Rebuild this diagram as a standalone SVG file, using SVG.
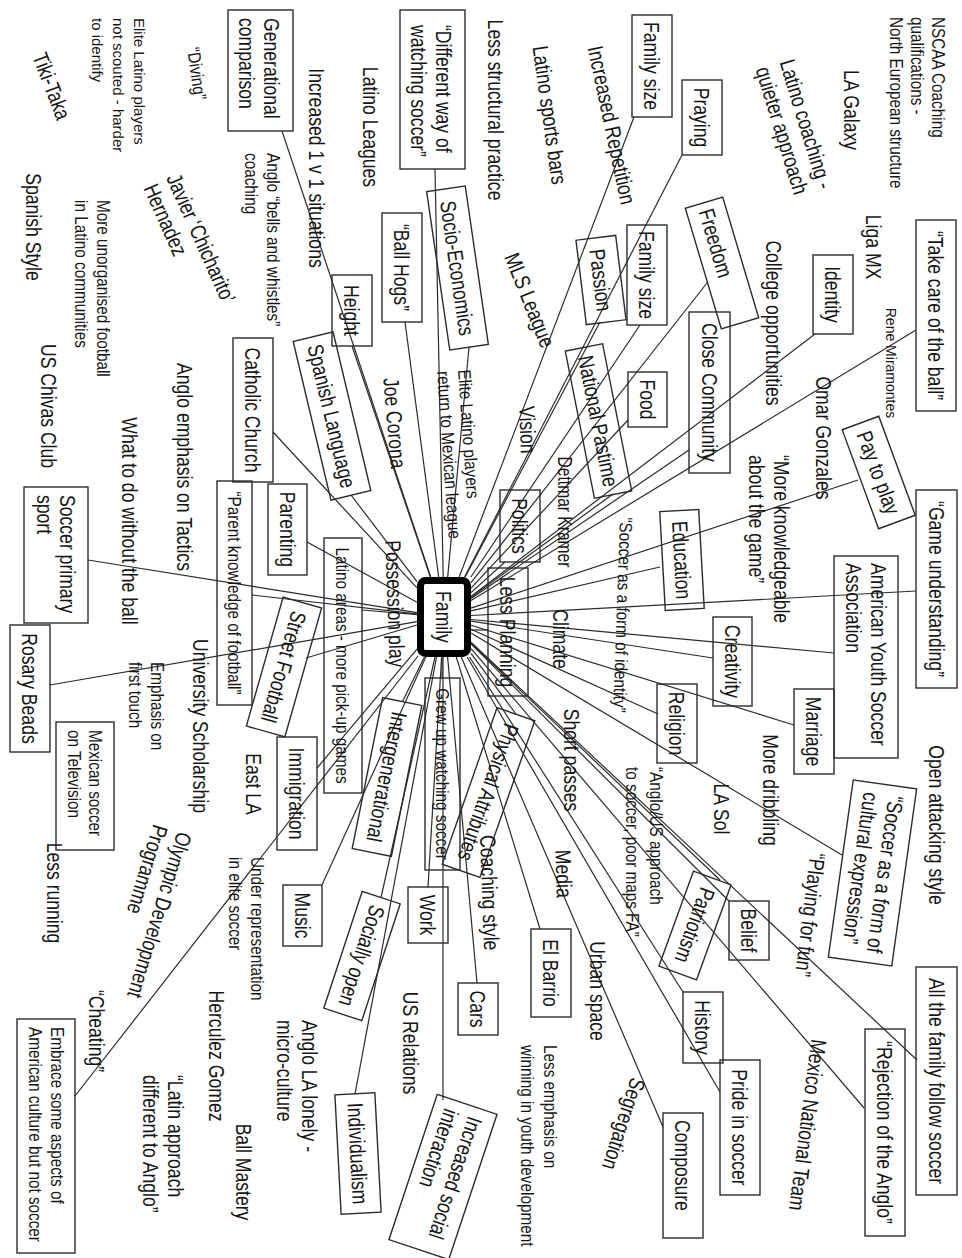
<svg xmlns="http://www.w3.org/2000/svg" width="962" height="1258" viewBox="0 0 962 1258">
<style>
text{font-family:"Liberation Sans",Arial,Helvetica,sans-serif;fill:#161616}
.L{font-size:22px}
.M{font-size:18px}
.S{font-size:15px}
.mid{text-anchor:middle}
.n rect{fill:none;stroke:#2b2b2b;stroke-width:1.4}
.n rect.hub{fill:#fff;stroke:#000;stroke-width:7}
#links line{stroke:#2b2b2b;stroke-width:1.2}
</style>
<rect width="962" height="1258" fill="#fff"/>

<!-- connectors: each box to the Family hub -->
<g id="links">
<line x1="282" y1="131" x2="430.7" y2="577"/>
<line x1="352" y1="346" x2="430.4" y2="577"/>
<line x1="405" y1="322" x2="438.7" y2="577"/>
<line x1="435" y1="169" x2="443.2" y2="577"/>
<line x1="469" y1="347" x2="447.7" y2="577"/>
<line x1="351" y1="495" x2="417" y2="581.6"/>
<line x1="273" y1="432" x2="417" y2="587.8"/>
<line x1="307" y1="542" x2="417" y2="602.2"/>
<line x1="88" y1="560" x2="417" y2="612.7"/>
<line x1="252" y1="595" x2="417" y2="613.9"/>
<line x1="50" y1="685" x2="417" y2="621.7"/>
<line x1="306" y1="658" x2="417" y2="625"/>
<line x1="362" y1="610" x2="417" y2="614.7"/>
<line x1="317" y1="768" x2="417" y2="649.1"/>
<line x1="322" y1="885" x2="425.8" y2="657"/>
<line x1="75" y1="1096" x2="418" y2="656"/>
<line x1="402.5" y1="701.5" x2="424.4" y2="657"/>
<line x1="381" y1="897.5" x2="435" y2="657"/>
<line x1="355" y1="1094" x2="436.5" y2="657"/>
<line x1="428" y1="887" x2="441.6" y2="657"/>
<line x1="443" y1="1100" x2="443" y2="657"/>
<line x1="442" y1="678" x2="442" y2="657"/>
<line x1="516" y1="714" x2="471" y2="653.4"/>
<line x1="477" y1="983" x2="447.6" y2="657"/>
<line x1="540" y1="929" x2="456.3" y2="657"/>
<line x1="720" y1="880" x2="471" y2="643.3"/>
<line x1="729" y1="901" x2="471" y2="643.9"/>
<line x1="683" y1="992" x2="469.5" y2="657"/>
<line x1="720" y1="1092" x2="467.2" y2="657"/>
<line x1="663" y1="1127" x2="461.2" y2="657"/>
<line x1="917" y1="1060" x2="471" y2="642.3"/>
<line x1="864" y1="1108" x2="471" y2="648.6"/>
<line x1="842" y1="855" x2="471" y2="633.1"/>
<line x1="658" y1="714" x2="471" y2="629.2"/>
<line x1="794" y1="725" x2="471" y2="625.3"/>
<line x1="713" y1="658" x2="471" y2="621.1"/>
<line x1="834" y1="653" x2="471" y2="619.5"/>
<line x1="916" y1="591" x2="471" y2="615.5"/>
<line x1="660" y1="567" x2="471" y2="610.8"/>
<line x1="858" y1="480" x2="471" y2="608.1"/>
<line x1="916" y1="330" x2="471" y2="600.6"/>
<line x1="815" y1="334" x2="471" y2="596.4"/>
<line x1="689" y1="450" x2="471" y2="598.6"/>
<line x1="628" y1="420" x2="471" y2="588.1"/>
<line x1="707" y1="283" x2="471" y2="582.7"/>
<line x1="640" y1="325" x2="470.9" y2="577"/>
<line x1="600" y1="322" x2="465.2" y2="577"/>
<line x1="682" y1="155" x2="464.6" y2="577"/>
<line x1="634" y1="117" x2="459.2" y2="577"/>
<line x1="613" y1="494" x2="471" y2="597.3"/>
<line x1="505" y1="562" x2="471" y2="592.6"/>
<line x1="488" y1="630" x2="471" y2="630"/>
</g>

<!-- boxed nodes -->
<g class="n">
<g id="n-family" transform="translate(444,617) rotate(90)"><rect class="hub" x="-36.5" y="-23.5" width="73" height="47" rx="5"/><text class="L mid" transform="translate(0,7.9) scale(.8,1)">Family</text></g>
<g id="n-generational" transform="translate(260.5,70.5) rotate(90)"><rect x="-60.5" y="-32.5" width="121" height="65"/><text class="L" transform="translate(-52.5,-3.5) scale(.8,1)"><tspan x="0">Generational</tspan><tspan x="0" dy="25">comparison</tspan></text></g>
<g id="n-different-way" transform="translate(432.5,89.5) rotate(90)"><rect x="-79.5" y="-32.5" width="159" height="65"/><text class="L" transform="translate(-64.5,-3.5) scale(.8,1)"><tspan x="0">“Different way of</tspan><tspan x="0" dy="25">watching soccer”</tspan></text></g>
<g id="n-ball-hogs" transform="translate(402,267.5) rotate(90)"><rect x="-54.5" y="-20" width="109" height="40"/><text class="L mid" transform="translate(0,7.9) scale(.8,1)">“Ball Hogs”</text></g>
<g id="n-height" transform="translate(352,310.5) rotate(90)"><rect x="-35.5" y="-20" width="71" height="40"/><text class="L mid" transform="translate(0,7.9) scale(.8,1)">Height</text></g>
<g id="n-socio" transform="translate(457.5,268) rotate(81.7)"><rect x="-80" y="-19.5" width="160" height="39"/><text class="L mid" transform="translate(0,7.9) scale(.8,1)">Socio-Economics</text></g>
<g id="n-spanish-language" transform="translate(332,416) rotate(76.6)"><rect x="-81.5" y="-20.5" width="163" height="41"/><text class="L mid" transform="translate(0,7.9) scale(.8,1)">Spanish Language</text></g>
<g id="n-catholic" transform="translate(253,410) rotate(90)"><rect x="-72" y="-20" width="144" height="40"/><text class="L mid" transform="translate(0,7.9) scale(.8,1)">Catholic Church</text></g>
<g id="n-parent-knowledge" transform="translate(234.5,593) rotate(90)"><rect x="-112" y="-17.5" width="224" height="35"/><text class="M mid" transform="translate(0,7) scale(.85,1)">“Parent knowledge of football”</text></g>
<g id="n-parenting" transform="translate(287.5,529.5) rotate(90)"><rect x="-45.5" y="-19.5" width="91" height="39"/><text class="L mid" transform="translate(0,7.9) scale(.8,1)">Parenting</text></g>
<g id="n-soccer-primary" transform="translate(56,555) rotate(90)"><rect x="-68" y="-32" width="136" height="64"/><text class="L" transform="translate(-60,-4) scale(.8,1)"><tspan x="0">Soccer primary</tspan><tspan x="0" dy="23">sport</tspan></text></g>
<g id="n-rosary" transform="translate(30,688.5) rotate(90)"><rect x="-63.5" y="-20" width="127" height="40"/><text class="L mid" transform="translate(0,7.9) scale(.8,1)">Rosary Beads</text></g>
<g id="n-mexican-tv" transform="translate(85,786) rotate(90)"><rect x="-64" y="-29" width="128" height="58"/><text class="M" transform="translate(-56,-4) scale(.85,1)"><tspan x="0">Mexican soccer</tspan><tspan x="0" dy="21">on Television</tspan></text></g>
<g id="n-street-football" transform="translate(284,667) rotate(105.9)"><rect x="-67" y="-20" width="134" height="40"/><text class="L mid" transform="translate(0,7.9) scale(.8,1)">Street Football</text></g>
<g id="n-latino-areas" transform="translate(343,665.5) rotate(90)"><rect x="-127.5" y="-19" width="255" height="38"/><text class="M mid" transform="translate(0,7) scale(.85,1)">Latino areas - more pick-up games</text></g>
<g id="n-immigration" transform="translate(297,793.5) rotate(90)"><rect x="-56.5" y="-20" width="113" height="40"/><text class="L mid" transform="translate(0,7.9) scale(.8,1)">Immigration</text></g>
<g id="n-music" transform="translate(302.5,915.5) rotate(90)"><rect x="-30.5" y="-19.5" width="61" height="39"/><text class="L mid" transform="translate(0,7.9) scale(.8,1)">Music</text></g>
<g id="n-embrace" transform="translate(46,1136) rotate(90)"><rect x="-117" y="-29" width="234" height="58"/><text class="M" transform="translate(-109,-5) scale(.85,1)"><tspan x="0">Embrace some aspects of</tspan><tspan x="0" dy="22">American culture but not soccer</tspan></text></g>
<g id="n-intergenerational" transform="translate(387,777) rotate(101.4)"><rect x="-77" y="-20" width="154" height="40"/><text class="L mid" transform="translate(0,7.9) scale(.8,1)">Intergenerational</text></g>
<g id="n-grew-up" transform="translate(442.5,774) rotate(90)"><rect x="-96" y="-17.5" width="192" height="35"/><text class="M mid" transform="translate(0,6.4) scale(.85,1)">Grew up watching soccer</text></g>
<g id="n-physical" transform="translate(488.5,792.5) rotate(109.3)"><rect x="-83" y="-20" width="166" height="40"/><text class="L mid" transform="translate(0,7.9) scale(.8,1)">Physical Attributes</text></g>
<g id="n-less-planning" transform="translate(508,632) rotate(90)"><rect x="-64" y="-20" width="128" height="40"/><text class="L mid" transform="translate(0,7.9) scale(.8,1)">Less Planning</text></g>
<g id="n-politics" transform="translate(520,526) rotate(90)"><rect x="-36" y="-20" width="72" height="40"/><text class="L mid" transform="translate(0,7.9) scale(.8,1)">Politics</text></g>
<g id="n-national-pastime" transform="translate(598.5,421) rotate(78.8)"><rect x="-75" y="-19" width="150" height="38"/><text class="L mid" transform="translate(0,7.9) scale(.8,1)">National Pastime</text></g>
<g id="n-family-size-1" transform="translate(652,66) rotate(90)"><rect x="-51" y="-20" width="102" height="40"/><text class="L mid" transform="translate(0,7.9) scale(.8,1)">Family size</text></g>
<g id="n-praying" transform="translate(702,117.5) rotate(90)"><rect x="-37.5" y="-20" width="75" height="40"/><text class="L mid" transform="translate(0,7.9) scale(.8,1)">Praying</text></g>
<g id="n-passion" transform="translate(601,280) rotate(83)"><rect x="-42.5" y="-20" width="85" height="40"/><text class="L mid" transform="translate(0,7.9) scale(.8,1)">Passion</text></g>
<g id="n-family-size-2" transform="translate(647,275) rotate(90)"><rect x="-50" y="-20" width="100" height="40"/><text class="L mid" transform="translate(0,7.9) scale(.8,1)">Family size</text></g>
<g id="n-freedom" transform="translate(722,263) rotate(73.4)"><rect x="-63" y="-19.5" width="126" height="39"/><text class="L" transform="translate(-56,7.9) scale(.8,1)">Freedom</text></g>
<g id="n-close-community" transform="translate(709.5,392.5) rotate(90)"><rect x="-80.5" y="-20.5" width="161" height="41"/><text class="L mid" transform="translate(0,7.9) scale(.8,1)">Close Community</text></g>
<g id="n-food" transform="translate(647.5,399.5) rotate(90)"><rect x="-27.5" y="-19.5" width="55" height="39"/><text class="L mid" transform="translate(0,7.9) scale(.8,1)">Food</text></g>
<g id="n-identity" transform="translate(833,294.5) rotate(90)"><rect x="-39.5" y="-20" width="79" height="40"/><text class="L mid" transform="translate(0,7.9) scale(.8,1)">Identity</text></g>
<g id="n-take-care" transform="translate(936,315.5) rotate(90)"><rect x="-95.5" y="-20" width="191" height="40"/><text class="L mid" transform="translate(0,7.9) scale(.8,1)">“Take care of the ball”</text></g>
<g id="n-pay-to-play" transform="translate(878.7,472.5) rotate(69.8)"><rect x="-52.75" y="-19.5" width="105.5" height="39"/><text class="L mid" transform="translate(0,7.9) scale(.8,1)">Pay to play</text></g>
<g id="n-education" transform="translate(682,560) rotate(86.8)"><rect x="-49.5" y="-19.5" width="99" height="39"/><text class="L mid" transform="translate(0,7.9) scale(.8,1)">Education</text></g>
<g id="n-creativity" transform="translate(732.5,661.5) rotate(90)"><rect x="-44.5" y="-19.5" width="89" height="39"/><text class="L mid" transform="translate(0,7.9) scale(.8,1)">Creativity</text></g>
<g id="n-aysa" transform="translate(866,657) rotate(90)"><rect x="-101" y="-32" width="202" height="64"/><text class="L" transform="translate(-94,-5) scale(.8,1)"><tspan x="0">American Youth Soccer</tspan><tspan x="0" dy="25">Association</tspan></text></g>
<g id="n-game-understanding" transform="translate(936.5,589) rotate(90)"><rect x="-99" y="-20.5" width="198" height="41"/><text class="L mid" transform="translate(0,7.9) scale(.8,1)">“Game understanding”</text></g>
<g id="n-marriage" transform="translate(814,731.5) rotate(90)"><rect x="-42.5" y="-20" width="85" height="40"/><text class="L mid" transform="translate(0,7.9) scale(.8,1)">Marriage</text></g>
<g id="n-religion" transform="translate(677,723.5) rotate(90)"><rect x="-39.5" y="-20" width="79" height="40"/><text class="L mid" transform="translate(0,7.9) scale(.8,1)">Religion</text></g>
<g id="n-cultural-expression" transform="translate(872.5,873) rotate(98)"><rect x="-89.5" y="-32" width="179" height="64"/><text class="L" transform="translate(-79.5,-5) scale(.8,1)"><tspan x="0">“Soccer as a form of</tspan><tspan x="0" dy="25">cultural expression”</tspan></text></g>
<g id="n-belief" transform="translate(749,930.5) rotate(90)"><rect x="-29.5" y="-20" width="59" height="40"/><text class="L mid" transform="translate(0,7.9) scale(.8,1)">Belief</text></g>
<g id="n-patriotism" transform="translate(695,925.5) rotate(110)"><rect x="-50.5" y="-20" width="101" height="40"/><text class="L mid" transform="translate(0,7.9) scale(.8,1)">Patriotism</text></g>
<g id="n-history" transform="translate(703,1027.5) rotate(90)"><rect x="-35.5" y="-20" width="71" height="40"/><text class="L mid" transform="translate(0,7.9) scale(.8,1)">History</text></g>
<g id="n-pride" transform="translate(740,1127.5) rotate(90)"><rect x="-67.5" y="-20" width="135" height="40"/><text class="L mid" transform="translate(0,7.9) scale(.8,1)">Pride in soccer</text></g>
<g id="n-composure" transform="translate(683,1175.5) rotate(90)"><rect x="-62.5" y="-20" width="125" height="40"/><text class="L" transform="translate(-55.5,7.9) scale(.8,1)">Composure</text></g>
<g id="n-all-family" transform="translate(936.5,1081) rotate(90)"><rect x="-114" y="-20.5" width="228" height="41"/><text class="L mid" transform="translate(0,7.9) scale(.8,1)">All the family follow soccer</text></g>
<g id="n-rejection" transform="translate(885,1132.5) rotate(90)"><rect x="-103.5" y="-20" width="207" height="40"/><text class="L mid" transform="translate(0,7.9) scale(.8,1)">“Rejection of the Anglo”</text></g>
<g id="n-el-barrio" transform="translate(551,973) rotate(90)"><rect x="-44" y="-20" width="88" height="40"/><text class="L mid" transform="translate(0,7.9) scale(.8,1)">El Barrio</text></g>
<g id="n-cars" transform="translate(478,1009) rotate(90)"><rect x="-26" y="-20" width="52" height="40"/><text class="L mid" transform="translate(0,7.9) scale(.8,1)">Cars</text></g>
<g id="n-work" transform="translate(428,915) rotate(90)"><rect x="-28" y="-20" width="56" height="40"/><text class="L mid" transform="translate(0,7.9) scale(.8,1)">Work</text></g>
<g id="n-socially-open" transform="translate(362,956) rotate(108.2)"><rect x="-61.5" y="-20" width="123" height="40"/><text class="L mid" transform="translate(0,7.9) scale(.8,1)">Socially open</text></g>
<g id="n-individualism" transform="translate(358,1153.5) rotate(87)"><rect x="-59.75" y="-20" width="119.5" height="40"/><text class="L mid" transform="translate(0,7.9) scale(.8,1)">Individualism</text></g>
<g id="n-social-interaction" transform="translate(443,1177) rotate(108.4)"><rect x="-76.5" y="-31.5" width="153" height="63"/><text class="L" transform="translate(-66.5,-4.5) scale(.8,1)"><tspan x="0">Increased social</tspan><tspan x="0" dy="25">interaction</tspan></text></g>
</g>

<!-- free-standing labels -->
<g id="labels">
<g id="t-tiki-taka" transform="translate(44.6,88.8) rotate(69)"><text class="L mid" transform="scale(.8,1)">Tiki-Taka</text></g>
<g id="t-diving" transform="translate(190.6,74.4) rotate(82)"><text class="M mid" transform="scale(.85,1)">“Diving”</text></g>
<g id="t-elite-not-scouted" transform="translate(134,18) rotate(90)"><text class="S"><tspan x="0">Elite Latino players</tspan><tspan x="0" dy="21">not scouted - harder</tspan><tspan x="0" dy="21">to identify</tspan></text></g>
<g id="t-1v1" transform="translate(309,168) rotate(90)"><text class="L mid" transform="scale(.8,1)">Increased 1 v 1 situations</text></g>
<g id="t-bells" transform="translate(267,153) rotate(90)"><text class="M" transform="scale(.85,1)"><tspan x="0">Anglo “bells and whistles”</tspan><tspan x="0" dy="22">coaching</tspan></text></g>
<g id="t-javier" transform="translate(166,178) rotate(66)"><text class="L" transform="scale(.8,1)"><tspan x="0">Javier ‘Chicharito’</tspan><tspan x="0" dy="25">Hernadez</tspan></text></g>
<g id="t-unorganised" transform="translate(97,200) rotate(90)"><text class="M" transform="scale(.85,1)"><tspan x="0">More unorganised football</tspan><tspan x="0" dy="22">in Latino communities</tspan></text></g>
<g id="t-spanish-style" transform="translate(26,227) rotate(90)"><text class="L mid" transform="scale(.8,1)">Spanish Style</text></g>
<g id="t-chivas" transform="translate(41,406) rotate(90)"><text class="L mid" transform="scale(.8,1)">US Chivas Club</text></g>
<g id="t-tactics" transform="translate(177,467) rotate(90)"><text class="L mid" transform="scale(.8,1)">Anglo emphasis on Tactics</text></g>
<g id="t-without-ball" transform="translate(122,521) rotate(90)"><text class="L mid" transform="scale(.8,1)">What to do without the ball</text></g>
<g id="t-first-touch" transform="translate(151,662) rotate(90)"><text class="M" transform="scale(.85,1)"><tspan x="0">Emphasis on</tspan><tspan x="0" dy="22">first touch</tspan></text></g>
<g id="t-university" transform="translate(193,726) rotate(90)"><text class="L mid" transform="scale(.8,1)">University Scholarship</text></g>
<g id="t-less-running" transform="translate(47,893) rotate(90)"><text class="L mid" transform="scale(.8,1)">Less running</text></g>
<g id="t-olympic" transform="translate(177.4,830.7) rotate(107)"><text class="L" transform="scale(.8,1)"><tspan x="0">Olympic Development</tspan><tspan x="0" dy="25">Programme</tspan></text></g>
<g id="t-east-la" transform="translate(246,784) rotate(90)"><text class="L mid" transform="scale(.8,1)">East LA</text></g>
<g id="t-under-rep" transform="translate(251,857) rotate(90)"><text class="M" transform="scale(.85,1)"><tspan x="0">Under representation</tspan><tspan x="0" dy="22">in elite soccer</tspan></text></g>
<g id="t-cheating" transform="translate(89,1031) rotate(90)"><text class="L mid" transform="scale(.8,1)">“Cheating”</text></g>
<g id="t-herculez" transform="translate(209,1056) rotate(90)"><text class="L mid" transform="scale(.8,1)">Herculez Gomez</text></g>
<g id="t-latin-approach" transform="translate(168,1075) rotate(90)"><text class="L" transform="scale(.8,1)"><tspan x="0">“Latin approach</tspan><tspan x="0" dy="25">different to Anglo”</tspan></text></g>
<g id="t-ball-mastery" transform="translate(236,1172) rotate(90)"><text class="L mid" transform="scale(.8,1)">Ball Mastery</text></g>
<g id="t-anglo-la" transform="translate(302,1020) rotate(90)"><text class="L" transform="scale(.8,1)"><tspan x="0">Anglo LA lonely -</tspan><tspan x="0" dy="25">micro-culture</tspan></text></g>
<g id="t-latino-leagues" transform="translate(363,127) rotate(90)"><text class="L mid" transform="scale(.8,1)">Latino Leagues</text></g>
<g id="t-less-structural" transform="translate(488,110) rotate(90)"><text class="L mid" transform="scale(.8,1)">Less structural practice</text></g>
<g id="t-elite-return" transform="translate(458,370) rotate(86)"><text class="M" transform="scale(.85,1)"><tspan x="0">Elite Latino players</tspan><tspan x="0" dy="21">return to Mexican league</tspan></text></g>
<g id="t-joe-corona" transform="translate(387.1,423.7) rotate(85)"><text class="L mid" transform="scale(.8,1)">Joe Corona</text></g>
<g id="t-possession" transform="translate(387.5,604) rotate(88)"><text class="L mid" transform="scale(.8,1)">Possession play</text></g>
<g id="t-vision" transform="translate(520,430) rotate(88)"><text class="L mid" transform="scale(.8,1)">Vision</text></g>
<g id="t-mls" transform="translate(522.7,303) rotate(68)"><text class="L mid" transform="scale(.8,1)">MLS League</text></g>
<g id="t-dettmar" transform="translate(558,512) rotate(90)"><text class="L mid" style="font-size:19.5px" transform="scale(.8,1)">Dettmar Kramer</text></g>
<g id="t-sports-bars" transform="translate(542.2,116.1) rotate(82)"><text class="L mid" transform="scale(.8,1)">Latino sports bars</text></g>
<g id="t-repetition" transform="translate(604.3,126.6) rotate(78)"><text class="L mid" transform="scale(.8,1)">Increased Repetition</text></g>
<g id="t-college" transform="translate(766,323) rotate(90)"><text class="L mid" transform="scale(.8,1)">College opportunities</text></g>
<g id="t-latino-coaching" transform="translate(779.4,62.3) rotate(73)"><text class="L" transform="scale(.8,1)"><tspan x="0">Latino coaching -</tspan><tspan x="0" dy="25">quieter approach</tspan></text></g>
<g id="t-nscaa" transform="translate(932,17) rotate(90)"><text class="M" transform="scale(.85,1)"><tspan x="0">NSCAA Coaching</tspan><tspan x="0" dy="21">qualifications -</tspan><tspan x="0" dy="21">North European structure</tspan></text></g>
<g id="t-la-galaxy" transform="translate(844,110) rotate(90)"><text class="L mid" transform="scale(.8,1)">LA Galaxy</text></g>
<g id="t-liga-mx" transform="translate(866,247) rotate(90)"><text class="L mid" transform="scale(.8,1)">Liga MX</text></g>
<g id="t-rene" transform="translate(886,363) rotate(90)"><text class="S mid" style="font-size:14px">Rene Miramontes</text></g>
<g id="t-omar" transform="translate(816,438) rotate(90)"><text class="L mid" transform="scale(.8,1)">Omar Gonzales</text></g>
<g id="t-more-knowledgeable" transform="translate(774,455) rotate(90)"><text class="L" transform="scale(.8,1)"><tspan x="0">“More knowledgeable</tspan><tspan x="0" dy="25">about the game”</tspan></text></g>
<g id="t-form-identity" transform="translate(616.6,614.8) rotate(92)"><text class="M mid" transform="scale(.85,1)">“Soccer as a form of identity”</text></g>
<g id="t-climate" transform="translate(553,639) rotate(90)"><text class="L mid" transform="scale(.8,1)">Climate</text></g>
<g id="t-short-passes" transform="translate(564,760) rotate(90)"><text class="L mid" transform="scale(.8,1)">Short passes</text></g>
<g id="t-anglo-us" transform="translate(650,767) rotate(90)"><text class="M" transform="scale(.85,1)"><tspan x="0">“Anglo/US approach</tspan><tspan x="0" dy="24">to soccer, poor maps FA”</tspan></text></g>
<g id="t-media" transform="translate(556,874) rotate(88)"><text class="L mid" transform="scale(.8,1)">Media</text></g>
<g id="t-coaching-style" transform="translate(482,893) rotate(88)"><text class="L mid" transform="scale(.8,1)">Coaching style</text></g>
<g id="t-us-relations" transform="translate(403,1043) rotate(90)"><text class="L mid" transform="scale(.8,1)">US Relations</text></g>
<g id="t-less-emphasis" transform="translate(544,1045) rotate(90)"><text class="M" transform="scale(.85,1)"><tspan x="0">Less emphasis on</tspan><tspan x="0" dy="23">winning in youth development</tspan></text></g>
<g id="t-urban" transform="translate(590,991) rotate(90)"><text class="L mid" transform="scale(.8,1)">Urban space</text></g>
<g id="t-segregation" transform="translate(616.5,1121.6) rotate(108)"><text class="L mid" transform="scale(.8,1)">Segregation</text></g>
<g id="t-la-sol" transform="translate(714,809) rotate(90)"><text class="L mid" transform="scale(.8,1)">LA Sol</text></g>
<g id="t-dribbling" transform="translate(763,790) rotate(90)"><text class="L mid" transform="scale(.8,1)">More dribbling</text></g>
<g id="t-playing-fun" transform="translate(802.7,913.9) rotate(97)"><text class="L mid" transform="scale(.8,1)">“Playing for fun”</text></g>
<g id="t-open-attacking" transform="translate(929,825) rotate(90)"><text class="L mid" transform="scale(.8,1)">Open attacking style</text></g>
<g id="t-mexico-national" transform="translate(800.2,1124) rotate(97.5)"><text class="L mid" transform="scale(.8,1)">Mexico National Team</text></g>
</g>
</svg>
